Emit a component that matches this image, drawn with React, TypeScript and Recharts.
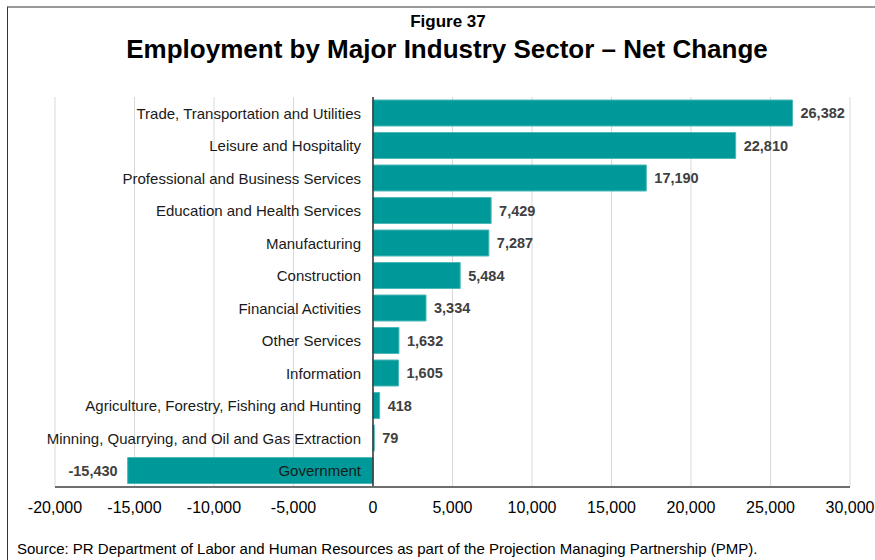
import React from "react";
import { BarChart, Bar, XAxis, YAxis, CartesianGrid, ReferenceLine, LabelList } from "recharts";

const categories = [
  "Trade, Transportation and Utilities",
  "Leisure and Hospitality",
  "Professional and Business Services",
  "Education and Health Services",
  "Manufacturing",
  "Construction",
  "Financial Activities",
  "Other Services",
  "Information",
  "Agriculture, Forestry, Fishing and Hunting",
  "Minning, Quarrying, and Oil and Gas Extraction",
  "Government",
];
const netChange = [26382, 22810, 17190, 7429, 7287, 5484, 3334, 1632, 1605, 418, 79, -15430];
const xTicks = [-20000, -15000, -10000, -5000, 0, 5000, 10000, 15000, 20000, 25000, 30000];

const data = categories.map((name, i) => ({ name, value: netChange[i] }));

const FONT = "'Liberation Sans', Arial, sans-serif";
const fmt = (v: number) => v.toLocaleString("en-US");

function geom(props: any) {
  const vb = props.viewBox || props;
  return {
    x: Number(vb.x ?? props.x),
    w: Number(vb.width ?? props.width),
    y: Number(vb.y ?? props.y),
    h: Number(vb.height ?? props.height),
  };
}

const CategoryLabel = (props: any) => {
  const { x, w, y, h } = geom(props);
  const v = netChange[props.index];
  let zeroX = x;
  if (w >= 0 && v < 0) zeroX = x + w;
  return (
    <text
      x={zeroX - 12}
      y={y + h / 2}
      textAnchor="end"
      dominantBaseline="central"
      fontFamily={FONT}
      fontSize={15}
      fill="#1a1a1a"
    >
      {props.value}
    </text>
  );
};

const ValueLabel = (props: any) => {
  const { x, w, y, h } = geom(props);
  const v = netChange[props.index];
  const left = Math.min(x, x + w);
  const right = Math.max(x, x + w);
  const pos = v >= 0;
  return (
    <text
      x={pos ? right + 8 : left - 10}
      y={y + h / 2}
      textAnchor={pos ? "start" : "end"}
      dominantBaseline="central"
      fontFamily={FONT}
      fontSize={14.5}
      fontWeight="bold"
      fill="#404040"
    >
      {fmt(v)}
    </text>
  );
};

export default function App() {
  return (
    <div
      style={{
        position: "absolute",
        left: 0,
        top: 0,
        width: 875,
        height: 560,
        overflow: "hidden",
        background: "#fff",
        fontFamily: FONT,
      }}
    >
      <div
        style={{
          position: "absolute",
          left: 7,
          top: 6,
          width: 900,
          height: 600,
          borderLeft: "1.5px solid #333",
          borderTop: "2px solid #999",
        }}
      />
      <div
        style={{
          position: "absolute",
          left: 0,
          width: 896,
          top: 12,
          textAlign: "center",
          fontSize: 17,
          fontWeight: "bold",
          color: "#000",
        }}
      >
        Figure 37
      </div>
      <div
        style={{
          position: "absolute",
          left: 0,
          width: 894,
          top: 34,
          textAlign: "center",
          fontSize: 26,
          fontWeight: "bold",
          color: "#000",
        }}
      >
        Employment by Major Industry Sector – Net Change
      </div>
      <div style={{ position: "absolute", left: 0, top: 0 }}>
        <BarChart
          width={875}
          height={560}
          data={data}
          layout="vertical"
          margin={{ top: 97, right: 25, bottom: 43, left: 55 }}
        >
          <CartesianGrid horizontal={false} stroke="#d9d9d9" />
          <XAxis
            type="number"
            domain={[-20000, 30000]}
            ticks={xTicks}
            tickFormatter={fmt}
            axisLine={{ stroke: "#6e6e6e", strokeWidth: 2 }}
            tickLine={false}
            tickMargin={9}
            height={30}
            tick={{ fontFamily: FONT, fontSize: 16, fill: "#000" }}
            interval={0}
            allowDataOverflow
          />
          <YAxis type="category" dataKey="name" hide width={0} />
          <Bar
            dataKey="value"
            fill="#009999"
            stroke="#4db8b8"
            strokeWidth={1}
            barSize={26}
            isAnimationActive={false}
          >
            <LabelList dataKey="name" content={<CategoryLabel />} />
            <LabelList dataKey="value" content={<ValueLabel />} />
          </Bar>
          <ReferenceLine x={0} stroke="#333" strokeWidth={1.5} />
        </BarChart>
      </div>
      <div
        style={{
          position: "absolute",
          left: 17,
          top: 540,
          fontSize: 15,
          color: "#000",
          whiteSpace: "nowrap",
        }}
      >
        Source: PR Department of Labor and Human Resources as part of the Projection Managing Partnership (PMP).
      </div>
    </div>
  );
}
